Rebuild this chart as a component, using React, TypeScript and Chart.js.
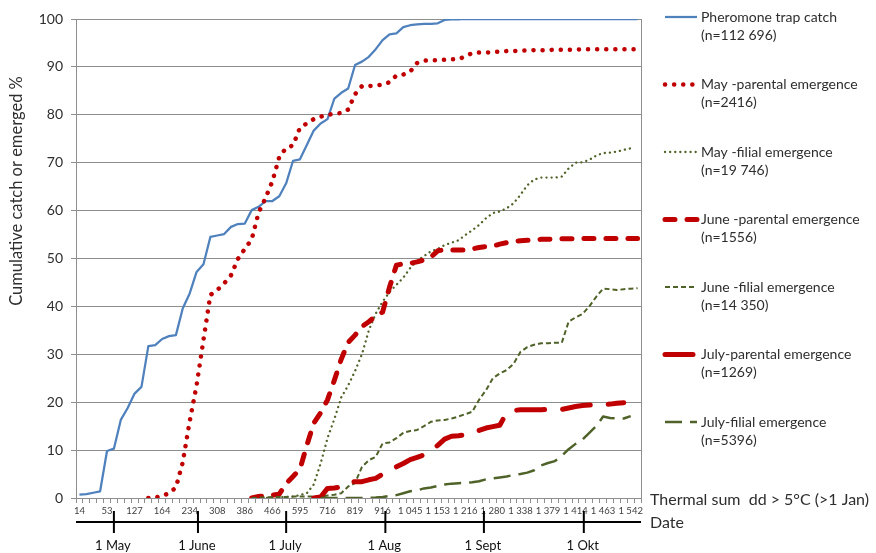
import React, { useEffect, useRef } from 'react';
import { Chart, registerables } from 'chart.js';

Chart.register(...registerables);

// ---------------- DATA ----------------
const categoryCount = 82;
const labelInterval = 4;
const thermalSumLabels = ['14', '53', '127', '164', '234', '308', '386', '466', '595', '716', '819', '916', '1 045', '1 153', '1 216', '1 280', '1 338', '1 379', '1 414', '1 463', '1 542'];

const dateLabels = ['1 May', '1 June', '1 July', '1 Aug', '1 Sept', '1 Okt'];
const datePositions = [5.0, 17.2, 30.0, 44.4, 58.7, 73.2]; // category index positions

const pheromoneTrap = [
  0.7, 0.8, 1.1, 1.4, 9.8, 10.3, 16.3, 18.8, 21.8, 23.2,
  31.7, 31.9, 33.2, 33.8, 34.0, 39.6, 42.7, 47.2, 48.8, 54.5,
  54.8, 55.1, 56.6, 57.2, 57.3, 60.1, 60.8, 62.0, 62.0, 63.0,
  65.7, 70.4, 70.7, 73.7, 76.7, 78.2, 79.1, 83.4, 84.6, 85.5,
  90.4, 91.1, 92.1, 93.7, 95.6, 96.8, 97.0, 98.3, 98.7, 98.9,
  99.0, 99.0, 99.1, 99.8, 99.9, 99.9, 100, 100, 100, 100,
  100, 100, 100, 100, 100, 100, 100, 100, 100, 100,
  100, 100, 100, 100, 100, 100, 100, 100, 100, 100,
  100, 100,
];

const mayParentalStart = 10;
const mayParental = [
  0, 0.1, 0.4, 1.0, 2.2, 7.5, 16.0, 23.5, 33.0, 42.4,
  43.4, 44.8, 46.5, 49.9, 52.0, 54.0, 59.6, 62.6, 66.1, 71.2,
  73.1, 73.6, 77.3, 78.2, 79.1, 79.6, 80.0, 80.2, 80.4, 81.1,
  84.3, 86.0, 86.0, 86.1, 86.3, 86.8, 88.2, 88.4, 89.0, 90.8,
  91.3, 91.4, 91.4, 91.5, 91.6, 91.6, 92.2, 92.9, 93.0, 93.0,
  93.1, 93.2, 93.3, 93.3, 93.4, 93.4, 93.5, 93.5, 93.5, 93.6,
  93.6, 93.6, 93.6, 93.7, 93.7, 93.7, 93.7, 93.7, 93.7, 93.7,
  93.7, 93.7,
];

const mayFilialStart = 25;
const mayFilial = [
  0, 0, 0, 0.1, 0.2, 0.2, 0.3, 0.6, 1.0, 2.8,
  7.2, 12.5, 16.5, 21.0, 23.5, 26.5, 30.0, 35.0, 38.5, 41.0,
  43.0, 44.5, 46.0, 48.0, 49.5, 50.5, 51.5, 52.0, 52.8, 53.3,
  53.8, 54.9, 55.9, 57.0, 58.4, 59.5, 59.8, 60.5, 61.5, 63.3,
  65.3, 66.5, 66.9, 66.9, 66.9, 67.1, 68.8, 70.0, 70.1, 70.6,
  71.5, 72.0, 72.1, 72.3, 72.7, 73.0,
];

const juneParentalStart = 25;
const juneParental = [
  0, 0.3, 0.5, 0.6, 0.8, 3.0, 4.5, 6.0, 11.0, 15.6,
  17.8, 20.5, 24.6, 29.0, 32.5, 34.0, 35.8, 36.8, 38.0, 38.8,
  44.0, 48.6, 48.9, 49.0, 49.3, 49.7, 50.3, 51.6, 51.8, 51.8,
  51.8, 51.8, 52.0, 52.3, 52.5, 52.6, 53.0, 53.3, 53.6, 53.7,
  53.8, 53.9, 54.0, 54.0, 54.1, 54.1, 54.1, 54.1, 54.2, 54.2,
  54.2, 54.2, 54.2, 54.2, 54.2, 54.2, 54.2,
];

const juneFilialStart = 25;
const juneFilial = [
  0, 0.1, 0.1, 0.2, 0.2, 0.2, 0.3, 0.3, 0.3, 0.3,
  0.3, 0.5, 0.7, 1.0, 2.4, 3.1, 6.5, 7.9, 8.6, 11.4,
  11.6, 12.5, 13.6, 14.0, 14.2, 15.0, 15.9, 16.2, 16.3, 16.6,
  17.0, 17.5, 18.0, 20.5, 22.5, 25.0, 26.0, 26.7, 28.0, 30.5,
  31.5, 32.0, 32.3, 32.3, 32.4, 32.4, 36.8, 37.7, 38.4, 40.0,
  42.0, 43.7, 43.6, 43.4, 43.6, 43.7, 43.8,
];

const julyParentalStart = 34;
const julyParental = [
  0, 0.2, 2.0, 2.1, 2.3, 3.3, 3.4, 3.4, 3.8, 4.1,
  5.0, 5.8, 6.5, 7.2, 8.0, 8.5, 9.0, 9.8, 11.0, 12.3,
  12.9, 13.0, 13.2, 13.7, 14.1, 14.6, 14.9, 15.2, 17.8, 18.3,
  18.4, 18.4, 18.4, 18.4, 18.5, 18.5, 18.5, 18.8, 19.1, 19.3,
  19.4, 19.4, 19.5, 19.6, 19.8, 19.9,
];

const julyFilialStart = 35;
const julyFilial = [
  0, 0, 0, 0, 0, 0, 0, 0.05, 0.1, 0.2,
  0.4, 0.6, 1.0, 1.4, 1.6, 2.0, 2.2, 2.5, 2.8, 3.0,
  3.1, 3.2, 3.3, 3.5, 3.9, 4.1, 4.3, 4.5, 4.8, 5.0,
  5.3, 5.8, 6.8, 7.3, 7.7, 8.8, 10.2, 11.3, 12.2, 13.6,
  15.0, 17.0, 16.7, 16.6, 16.6, 17.1,
];

const seriesNames = [
  'Pheromone trap catch',
  'May -parental emergence',
  'May -filial emergence',
  'June -parental emergence',
  'June -filial emergence',
  'July-parental emergence',
  'July-filial emergence',
];
const seriesCounts = ['(n=112 696)', '(n=2416)', '(n=19 746)', '(n=1556)', '(n=14 350)', '(n=1269)', '(n=5396)'];

// ---------------- helpers ----------------
const pad = (start: number, values: number[]) => {
  const arr: (number | null)[] = new Array(categoryCount).fill(null);
  values.forEach((v, i) => { arr[start + i] = v; });
  return arr;
};

const categoryLabels: string[] = Array.from({ length: categoryCount }, (_, i) =>
  i % labelInterval === 0 && thermalSumLabels[i / labelInterval] !== undefined ? thermalSumLabels[i / labelInterval] : ''
);

const FONT = 'Lato, "Open Sans", sans-serif';
const TEXT = '#2e2e2e';
const GRID = '#8e8e8e';
const RED = '#C00000';
const OLIVE = '#4F6228';
const BLUE = '#4F81BD';

const styles = [
  { color: BLUE, width: 2.25, dash: [] as number[], cap: 'butt' },
  { color: RED, width: 4.5, dash: [0.1, 9], cap: 'round' },
  { color: OLIVE, width: 2.3, dash: [0.1, 5], cap: 'round' },
  { color: RED, width: 5, dash: [10, 12], cap: 'round' },
  { color: OLIVE, width: 2, dash: [5, 3], cap: 'butt' },
  { color: RED, width: 5, dash: [28, 18], cap: 'round' },
  { color: OLIVE, width: 2.5, dash: [17, 8], cap: 'butt' },
];

const overlayPlugin = {
  id: 'overlay',
  afterDraw(chart: any) {
    const { ctx, chartArea } = chart;
    const xs = chart.scales.x;
    ctx.save();
    // right border of plot area
    ctx.strokeStyle = GRID;
    ctx.lineWidth = 1;
    ctx.beginPath();
    ctx.moveTo(Math.round(chartArea.right) + 0.5, chartArea.top);
    ctx.lineTo(Math.round(chartArea.right) + 0.5, chartArea.bottom);
    ctx.stroke();

    // date axis
    const dateY = chartArea.bottom + 24;
    ctx.strokeStyle = '#000';
    ctx.lineWidth = 2;
    ctx.beginPath();
    ctx.moveTo(chartArea.left, dateY);
    ctx.lineTo(chartArea.right, dateY);
    ctx.stroke();
    ctx.fillStyle = '#111';
    ctx.font = `13px ${FONT}`;
    ctx.textAlign = 'center';
    ctx.textBaseline = 'middle';
    datePositions.forEach((p, i) => {
      const x = xs.getPixelForValue(p);
      ctx.beginPath();
      ctx.moveTo(x, dateY - 11);
      ctx.lineTo(x, dateY + 11);
      ctx.stroke();
      ctx.fillText(dateLabels[i], x - 1, chartArea.bottom + 48);
    });

    // axis captions on the right
    ctx.fillStyle = TEXT;
    ctx.textAlign = 'left';
    ctx.font = `16px ${FONT}`;
    ctx.fillText('Thermal sum  dd > 5°C (>1 Jan)', chartArea.right + 9, chartArea.bottom + 2);
    ctx.fillText('Date', chartArea.right + 9, dateY + 1);

    // y axis title
    ctx.save();
    ctx.translate(17, 191);
    ctx.rotate(-Math.PI / 2);
    ctx.textAlign = 'center';
    ctx.font = `16.5px ${FONT}`;
    ctx.fillText('Cumulative catch or emerged %', 0, 0);
    ctx.restore();

    // legend
    ctx.font = `14px ${FONT}`;
    ctx.textAlign = 'left';
    styles.forEach((s, i) => {
      const y = 17 + i * 67.5;
      ctx.save();
      ctx.strokeStyle = s.color;
      ctx.lineWidth = s.width;
      ctx.setLineDash(s.dash);
      ctx.lineCap = s.cap as CanvasLineCap;
      ctx.beginPath();
      ctx.moveTo(665, y);
      ctx.lineTo(697, y);
      ctx.stroke();
      ctx.restore();
      ctx.fillStyle = TEXT;
      ctx.fillText(seriesNames[i], 701, y);
      ctx.fillText(seriesCounts[i], 701, y + 18);
    });
    ctx.restore();
  },
};

export default function App() {
  const ref = useRef<HTMLCanvasElement>(null);
  useEffect(() => {
    if (!ref.current) return;
    const seriesData = [
      pheromoneTrap,
      pad(mayParentalStart, mayParental),
      pad(mayFilialStart, mayFilial),
      pad(juneParentalStart, juneParental),
      pad(juneFilialStart, juneFilial),
      pad(julyParentalStart, julyParental),
      pad(julyFilialStart, julyFilial),
    ];
    const chart = new Chart(ref.current, {
      type: 'line',
      data: {
        labels: categoryLabels,
        datasets: seriesData.map((d, i) => ({
          label: seriesNames[i],
          data: d,
          borderColor: styles[i].color,
          backgroundColor: styles[i].color,
          borderWidth: styles[i].width,
          borderDash: styles[i].dash,
          borderCapStyle: styles[i].cap as any,
          borderJoinStyle: 'round' as const,
          pointRadius: 0,
          tension: 0,
          fill: false,
          spanGaps: false,
          order: 6 - i,
        })),
      },
      options: {
        responsive: false,
        devicePixelRatio: 1,
        animation: false,
        layout: { padding: { left: 0, top: 19, right: 235, bottom: 33 } },
        plugins: { legend: { display: false }, tooltip: { enabled: false } },
        scales: {
          x: {
            type: 'category',
            offset: true,
            afterFit: (s: any) => { s.height = 22; },
            grid: { display: true, drawOnChartArea: false, drawTicks: true, tickLength: 5, color: GRID, offset: true },
            border: { display: true, color: GRID },
            ticks: {
              autoSkip: false,
              maxRotation: 0,
              minRotation: 0,
              padding: 2,
              color: '#404040',
              font: { family: FONT, size: 9.5 },
              callback: (_v: any, i: number) => categoryLabels[i],
            },
          },
          y: {
            min: 0,
            max: 100,
            afterFit: (s: any) => { s.width = 76; },
            grid: { color: GRID, tickLength: 5 },
            border: { display: true, color: GRID },
            ticks: { stepSize: 10, padding: 8, color: TEXT, font: { family: FONT, size: 14 } },
          },
        },
      },
      plugins: [overlayPlugin],
    });
    return () => chart.destroy();
  }, []);

  return (
    <div style={{ position: 'fixed', left: 0, top: 0, width: 876, height: 553, background: '#fff' }}>
      <canvas ref={ref} width={876} height={553} style={{ display: 'block' }} />
    </div>
  );
}
